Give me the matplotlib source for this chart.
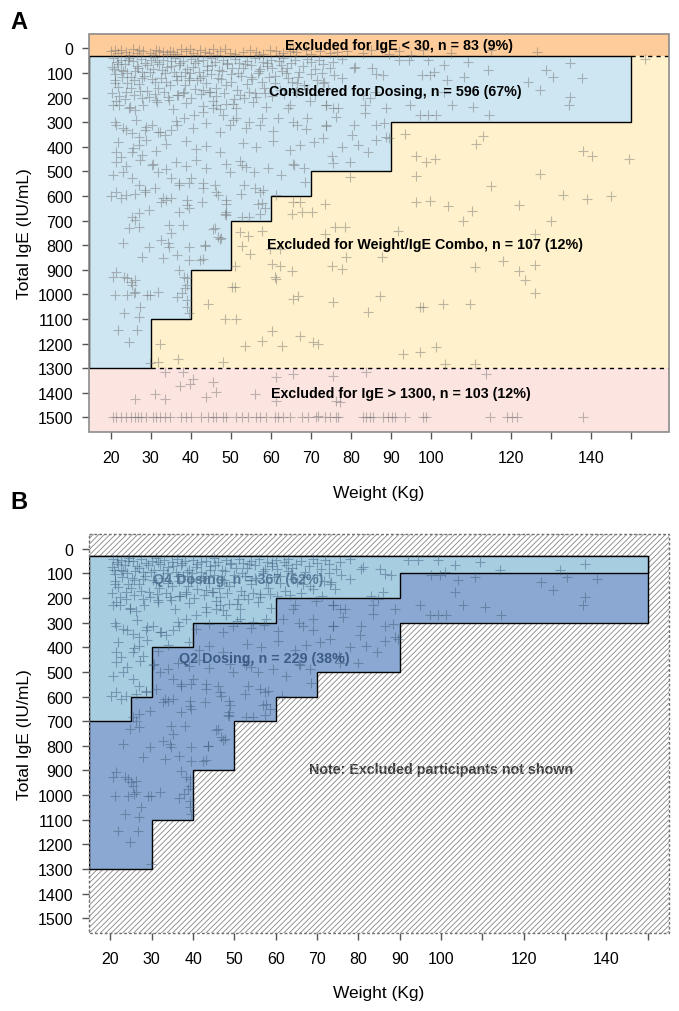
import numpy as np
import matplotlib
matplotlib.use("Agg")
import matplotlib.pyplot as plt
from matplotlib.patches import Polygon, Rectangle

plt.rcParams['font.family'] = ['Liberation Sans', 'DejaVu Sans']
plt.rcParams['hatch.linewidth'] = 0.6

# weight / IgE step limits (upper IgE bound for each weight band)
band_w = [30, 40, 50, 60, 70, 90, 150]
ok_max = [1300, 1100, 900, 700, 600, 500, 300]      # considered for dosing
q4_w = [25, 30, 40, 60, 90, 150]
q4_max = [700, 600, 400, 300, 200, 100]            # Q4 dosing
ige_low, ige_high = 30, 1300

x_ticks = list(range(20, 160, 10))
x_labels = ['20', '30', '40', '50', '60', '70', '80', '90', '100', '', '120', '', '140', '']
y_ticks = list(range(0, 1600, 100))

# participants: IgE < 30
low_w = [20.2, 21, 21.8, 22.7, 23.9, 25.6, 28, 29.75, 31.4, 33.1, 34, 34.75, 35.6, 37.7, 38.9,
         40.6, 42.25, 43.5, 45.6, 47.25, 49.75, 54.75, 56.4, 58.1, 59.75, 61.4, 63.1, 64.75, 66.4,
         68.9, 72.25, 74.75, 79, 83, 87.7, 92, 98, 126.4, 24.5, 26.5, 27.2, 30.5, 32, 36.5, 39.8,
         41.5, 44.5, 46.5, 48.5, 51, 53, 57, 62, 65.5, 70, 76.5, 85, 89.5, 95, 105, 115]
low_ige = [12, 5, 18, 8, 15, 3, 12, 20, 6, 14, 22, 9, 16, 4, 11, 19, 7, 14, 2, 10, 17, 8, 13, 22,
           5, 12, 18, 9, 15, 6, 11, 20, 10, 20, 3, 12, 8, 16, 25, 18, 6, 26, 10, 24, 2, 26, 20, 26,
           4, 24, 15, 27, 25, 3, 24, 14, 6, 22, 26, 18, 8]

# participants considered for dosing
ok_w = [75.5, 77.9, 74.7, 75.9, 77.9, 80.7, 81.1, 85.2, 86.4, 88, 92, 94.5, 99.3, 103.3, 109.4,
        114.2, 128.8, 130.4, 134.8, 137.7, 124.3, 127.2, 97.7, 99.7, 100.9, 104.1, 108.2, 103.3,
        105.4, 110.6, 94.9, 97.3, 99.3, 101.3, 114.6, 134.8, 134.4, 73.4, 74.3, 76.7, 73.9, 83.1,
        84.8, 83.6, 86, 88.8, 83.6, 76.3, 80.7, 86.4, 88.4, 88.8, 80.3, 86.4, 81.9, 77.9, 84.4,
        89.6, 79.8, 75.2,
        21, 22.6, 24.2, 25.8, 27.8, 29.9, 31.1, 21, 21.8, 23.8, 20.6, 22.2, 24.6, 26.2, 27.8, 31.5,
        34.3, 36.7, 38.3, 39.6, 41.6, 43.2, 44.8, 46.4, 48.8, 51.3, 53.3, 56.1, 57.7, 60.2, 62.6,
        64.2, 66.6, 69, 71.1, 73.1, 73.9, 21.4, 23, 25.4, 27, 28.7, 30.3, 31.9, 33.5, 35.1, 36.7,
        38.3, 40.8, 43.2, 45.6, 48, 49.7, 51.3, 54.5, 57.7, 61.8, 64.2, 66.6, 69, 70.7, 73.1, 73.9,
        21.4, 22.6, 25.4, 27, 27.8, 30.3, 31.9, 35.1, 37.1, 40, 43.2, 46.4, 49.7, 52.9, 55.7, 59.3,
        62.6, 65.8, 68.2, 68.5, 20.6, 23, 25.4, 27, 21.4, 23.8, 28.7,
        20.5, 21.5, 22.5, 23.5, 24.5, 25.5, 26.5, 27.5, 28.5, 30, 31, 32, 33, 34, 35, 36, 37, 38,
        39, 40, 41, 42, 43, 44, 45, 46, 47, 48, 49, 50, 51, 52, 53, 54, 55, 56, 57, 58, 59, 60, 61,
        62, 63, 64, 65, 66, 67, 68, 69, 70, 71, 72, 73,
        20.3, 21.2, 22.8, 24, 25, 26, 27, 28.3, 29.2, 30.5, 31.8, 32.6, 33.7, 34.9, 35.8, 36.5,
        37.6, 38.7, 39.8, 41, 42.4, 43.8, 45, 46.2, 47.5, 48.7, 50, 51.5, 52.6, 54, 55.3, 56.8,
        58.2, 59.5, 61, 62.3, 63.8, 65.2, 66.8, 68.4, 70, 71.6, 72.9,
        20.2, 22.6, 26.2, 28.7, 31.1, 33.1, 35.1, 37.1, 39.6, 39.2, 43.2, 46, 46.8, 48.8, 52.5,
        53.3, 56.1, 57.3, 58.1, 61.4, 25.4, 26.2, 24.6, 27, 27, 29.5, 32.7, 33.9, 37.1, 39.2, 39.6,
        42.8, 46, 46.8, 47.6, 48.8, 48.8, 52.9, 54.5, 57.7, 58.5, 23, 27.8, 29.5, 32.7, 33.1, 34.3,
        34.7, 35.1, 34.7, 38, 36.7, 39.6, 39.6, 42.4, 43.6, 20.6, 21.4, 23.4, 24.2, 25, 25.4, 26.2,
        21, 24.2, 25.8, 26.2, 29.1, 29.9, 31.9, 37.1, 38.3, 39.2, 39.2, 36.7, 37.9, 38.7, 39.2,
        39.2, 39.6, 23.4, 27.4, 27, 21.8, 26.6, 24.6, 29.9, 48.9, 48.5, 56.8, 57.3, 45.6, 47.3,
        43.5, 43.1,
        21.4, 24.75, 28.1, 31.4, 35.6, 38.9, 43.1, 45.6, 47.25, 50.6, 55.6, 58.9, 64.75, 69.75,
        75.6, 21, 23.9, 26.4, 28.9, 32.25, 36.4, 40.6, 43.9, 47.25, 50.6, 53.9, 57.25, 60.6, 65.6,
        68.9, 73.9, 21.8, 25.6, 28.9, 31.4, 33.9, 38.9, 41.4, 43.9, 47.25, 53.1, 56.4, 60.6, 64.75,
        67.25, 21.4, 23.9, 27.25, 30.6, 33.9, 36.4, 38.9, 41.4, 43.9, 48.9, 52.25, 53.9, 65.6, 75.6,
        20.8, 21.9, 23.1, 24.3, 25.2, 26.8, 27.9, 29.1, 30.3, 31.6, 32.8, 33.9, 35.2, 36.3, 37.4,
        38.6, 39.5, 40.7, 41.9, 43.1, 44.2, 45.3, 46.7, 47.8, 49.1, 50.4, 51.8, 53.6, 55.1, 57.4,
        59.1, 62.9,
        20.4, 22.2, 23.7, 25.8, 27.3, 29.6, 31.2, 33.4, 34.6, 36.9, 38.2, 40.2, 42.7, 44.6, 46.4,
        48.3, 50.8, 52.3, 54.5, 56.3, 58.6, 60.4, 63.4, 66.2]
ok_ige = [54, 41, 81, 108, 122, 81, 74, 81, 102, 108, 47, 47, 47, 68, 54, 88, 88, 115, 61, 122,
          135, 169, 108, 108, 95, 129, 115, 176, 230, 237, 230, 271, 271, 271, 271, 196, 230, 135,
          163, 244, 230, 190, 203, 230, 176, 244, 264, 278, 312, 312, 305, 359, 352, 373, 393, 400,
          420, 366, 463, 436,
          102, 88, 142, 129, 122, 95, 135, 142, 156, 176, 230, 230, 244, 251, 203, 217, 196, 190,
          176, 122, 129, 169, 176, 230, 224, 244, 203, 183, 135, 81, 68, 122, 142, 163, 190, 142,
          230, 312, 325, 345, 359, 332, 312, 339, 352, 332, 312, 284, 271, 257, 244, 271, 312, 284,
          298, 284, 284, 244, 312, 284, 379, 366, 312,
          420, 440, 420, 393, 434, 474, 501, 528, 556, 528, 569, 583, 501, 474, 501, 488, 515, 474,
          488, 545, 515, 501, 528, 556, 583, 596, 583,
          40, 55, 45, 65, 38, 50, 70, 42, 58, 48, 36, 62, 45, 75, 52, 40, 66, 50, 85, 44, 60, 95, 48,
          72, 38, 55, 88, 46, 64, 105, 42, 58, 80, 49, 66, 40, 92, 55, 70, 45, 110, 52, 40, 78, 60,
          48, 95, 70, 42, 56, 84, 46, 64,
          75, 130, 115, 100, 160, 90, 145, 110, 175, 85, 160, 120, 100, 150, 95, 130, 110, 150, 100,
          165, 120, 140, 105, 160, 125, 150, 135, 170, 110, 145, 125, 100, 160, 115, 140, 170, 100,
          135, 115, 150, 105, 130, 100,
          599, 610, 590, 576, 569, 610, 610, 549, 549, 617, 549, 556, 596, 617, 590, 556, 569, 583,
          576, 596, 684, 698, 732, 725, 671, 657, 623, 617, 664, 637, 650, 623, 732, 766, 772, 664,
          678, 684, 684, 630, 650, 793, 847, 806, 779, 854, 793, 806, 752, 718, 718, 840, 806, 860,
          860, 800, 928, 908, 928, 935, 948, 962, 942, 1003, 1003, 996, 989, 1003, 1003, 989, 901,
          928, 935, 962, 1010, 996, 976, 1023, 1050, 1077, 1077, 1050, 1091, 1145, 1145, 1192,
          1280, 633, 674, 633, 674, 735, 775, 802, 856,
          215, 240, 228, 210, 245, 222, 236, 212, 248, 226, 218, 240, 230, 214, 244, 300, 330, 290,
          318, 340, 296, 325, 305, 338, 292, 322, 310, 335, 300, 328, 315, 380, 405, 372, 415, 390,
          378, 410, 395, 420, 385, 400, 375, 412, 392, 460, 480, 455, 470, 490, 462, 478, 452, 485,
          468, 458, 482, 470, 465,
          85, 62, 92, 48, 118, 78, 95, 66, 125, 55, 88, 138, 72, 110, 58, 96, 130, 76, 52, 112, 88,
          68, 122, 92, 58, 80, 98, 64, 118, 84, 58, 90,
          180, 195, 205, 188, 172, 198, 185, 178, 208, 190, 182, 200, 186, 176, 195, 181, 205, 188,
          178, 196, 183, 192, 186, 178]

# participants excluded for weight / IgE combination
combo_w = [65.6, 67.3, 65.2, 67.7, 70.2, 73.5, 96.4, 99.8, 104.3, 110.2, 76, 78.5, 73.5, 91.8,
           52.25, 54.3, 57.7, 59.75, 62.25, 54.75, 52.7, 78.9, 87.7, 75.2, 77.7, 51, 60.2, 62.25,
           65.2, 61, 61.4, 50.2, 51, 65.6, 66.8, 75.6, 87.25, 97.25, 98.1, 109.75, 84.3, 48.5,
           44.3, 51.4, 60.2, 67.25, 57.7, 53.5, 62.7, 70.6, 71.8, 93.1, 97.25, 101.4, 48.1, 103.5,
           111, 93.5, 111.4, 113.1, 96.4, 98.9, 101, 138.1, 140.2, 127.25, 79.75, 96.4, 153.5,
           32.25, 31.8, 36.8, 145, 133, 122, 126, 126, 111, 123.5, 118, 122, 126, 103, 139, 149.5,
           115, 108, 130]
combo_ige = [626, 626, 674, 667, 667, 633, 626, 619, 640, 660, 728, 728, 755, 741, 748, 762, 741,
             816, 816, 836, 802, 850, 850, 884, 897, 884, 877, 884, 904, 931, 938, 972, 972, 1019,
             1006, 1033, 1006, 1053, 1053, 1039, 1073, 1100, 1039, 1100, 1148, 1168, 1188, 1209,
             1209, 1195, 1202, 1243, 1236, 1215, 1276, 1283, 1283, 348, 389, 355, 436, 463, 450,
             416, 436, 511, 524, 518, 43, 1202, 1276, 1263, 600, 596, 637, 755, 881, 889, 940, 865,
             905, 995, 1040, 612, 450, 560, 700, 700]

# participants with IgE > 1300
high_w = [20.6, 21.4, 22.7, 23.9, 25.2, 26, 26.8, 27.7, 28.9, 30.6, 31.4, 32.25, 33.5, 34.75,
          37.7, 38.9, 40.2, 42.7, 44.3, 45.6, 46.4, 48.1, 48.9, 51.4, 52.7, 54.3, 56.4, 57.25,
          58.9, 61, 61.8, 63.1, 64.75, 67.7, 69.4, 71.4, 73.5, 74.75, 76.4, 76.8, 83.1, 83.9,
          84.75, 85.6, 88.1, 89.3, 90.2, 91, 93.5, 98.1, 98.9, 114.75, 118.9, 120.2, 121.4, 138.1,
          31, 26, 33.5, 33.5, 37.25, 39.75, 40.6, 38.1, 45.6, 46.4, 43.9, 56, 61.4, 65.6, 61.4,
          75.6, 76.4, 71.8, 83.9, 77.25, 113.9]
high_ige = [1500] * 56 + [1405, 1426, 1426, 1317, 1371, 1365, 1344, 1317, 1358, 1398, 1419, 1405,
                          1337, 1324, 1432, 1331, 1432, 1493, 1317, 1439, 1324]

fig = plt.figure(figsize=(6.79, 10.12), dpi=100)
ax1 = fig.add_axes([0.1311, 0.5721, 0.8542, 0.3936])
ax2 = fig.add_axes([0.1311, 0.0771, 0.8542, 0.3943])


def step_poly(xs, tops, xmin, top):
    pts = [(xmin, top), (xs[-1], top)]
    for i in range(len(xs) - 1, -1, -1):
        pts.append((xs[i], tops[i]))
        if i > 0:
            pts.append((xs[i - 1], tops[i]))
    pts.append((xmin, tops[0]))
    return pts


def style_axes(ax, xlim):
    ax.set_xlim(*xlim)
    ax.set_ylim(1560, -60)
    ax.set_xticks(x_ticks)
    ax.set_xticklabels(x_labels)
    ax.set_yticks(y_ticks)
    ax.tick_params(direction='out', length=5, width=1, color='#555555', labelsize=11.5)
    ax.tick_params(axis='x', pad=8)
    ax.tick_params(axis='y', pad=6.5)
    for s in ax.spines.values():
        s.set_visible(False)
    ax.set_xlabel('Weight (Kg)', fontsize=12.5, labelpad=14)
    ax.set_ylabel('Total IgE (IU/mL)', fontsize=12.5, labelpad=4)


tk = dict(ha='center', va='center', fontsize=10.3, fontweight='bold')

# ---- panel A ----
xa = (14.6, 159.5)
style_axes(ax1, xa)
ax1.add_patch(Rectangle((xa[0], -60), xa[1] - xa[0], 90, fc='#fdcc9a', ec='none', zorder=1))
ax1.add_patch(Rectangle((xa[0], ige_low), xa[1] - xa[0], ige_high - ige_low, fc='#fef1cb', ec='none', zorder=1))
ax1.add_patch(Rectangle((xa[0], ige_high), xa[1] - xa[0], 1560 - ige_high, fc='#fce5e1', ec='none', zorder=1))
ax1.add_patch(Polygon(step_poly(band_w, ok_max, xa[0], ige_low), closed=True,
                      fc='#cde6f2', ec='black', lw=1, zorder=2))
ax1.plot([150, xa[1]], [ige_low, ige_low], color='black', ls=(0, (3, 3)), lw=1, zorder=3)
ax1.plot([30, xa[1]], [ige_high, ige_high], color='black', ls=(0, (3, 3)), lw=1, zorder=3)
ax1.add_patch(Rectangle((xa[0], -60), xa[1] - xa[0], 1620, fc='none', ec='#8c8c8c', lw=1.2, zorder=5, clip_on=False))

for w, g in [(low_w, low_ige), (ok_w, ok_ige), (combo_w, combo_ige), (high_w, high_ige)]:
    ax1.plot(w, g, ls='none', marker='+', ms=7.5, mew=0.8, color='#6e6e6e', alpha=0.45, zorder=4)

ax1.text(92, -15, 'Excluded for IgE < 30, n = 83 (9%)', zorder=6, **tk)
ax1.text(91, 172, 'Considered for Dosing, n = 596 (67%)', zorder=6, **tk)
ax1.text(98.5, 795, 'Excluded for Weight/IgE Combo, n = 107 (12%)', zorder=6, **tk)
ax1.text(92.5, 1400, 'Excluded for IgE > 1300, n = 103 (12%)', zorder=6, **tk)

# ---- panel B ----
xb = (14.8, 155.2)
style_axes(ax2, xb)
ax2.text(100, 895, 'Note: Excluded participants not shown', color='#333333', zorder=1, **tk)
ax2.add_patch(Rectangle((xb[0], -60), xb[1] - xb[0], 1620, fc='none', ec='#858585', lw=0,
                        hatch='//////', zorder=2))
ax2.add_patch(Polygon(step_poly(band_w, ok_max, xb[0], ige_low), closed=True,
                      fc='#8aa8d1', ec='black', lw=1, zorder=3))
ax2.add_patch(Polygon(step_poly(q4_w, q4_max, xb[0], ige_low), closed=True,
                      fc='#a7cde1', ec='black', lw=1, zorder=3))
ax2.plot(ok_w, ok_ige, ls='none', marker='+', ms=7.5, mew=0.8, color='#3b5778', alpha=0.45, zorder=4)
ax2.text(50.8, 122, 'Q4 Dosing, n = 367 (62%)', color='#4a6b8c', alpha=0.85, zorder=5, **tk)
ax2.text(57.3, 443, 'Q2 Dosing, n = 229 (38%)', color='#2f4f78', alpha=0.85, zorder=5, **tk)
ax2.add_patch(Rectangle((xb[0], -60), xb[1] - xb[0], 1620, fc='none', ec='#707070', lw=1,
                        ls=(0, (2, 1.5)), zorder=6, clip_on=False))

fig.text(0.015, 0.978, 'A', fontsize=17, fontweight='bold', va='center')
fig.text(0.015, 0.503, 'B', fontsize=17, fontweight='bold', va='center')

fig.savefig('out.png', dpi=100)
